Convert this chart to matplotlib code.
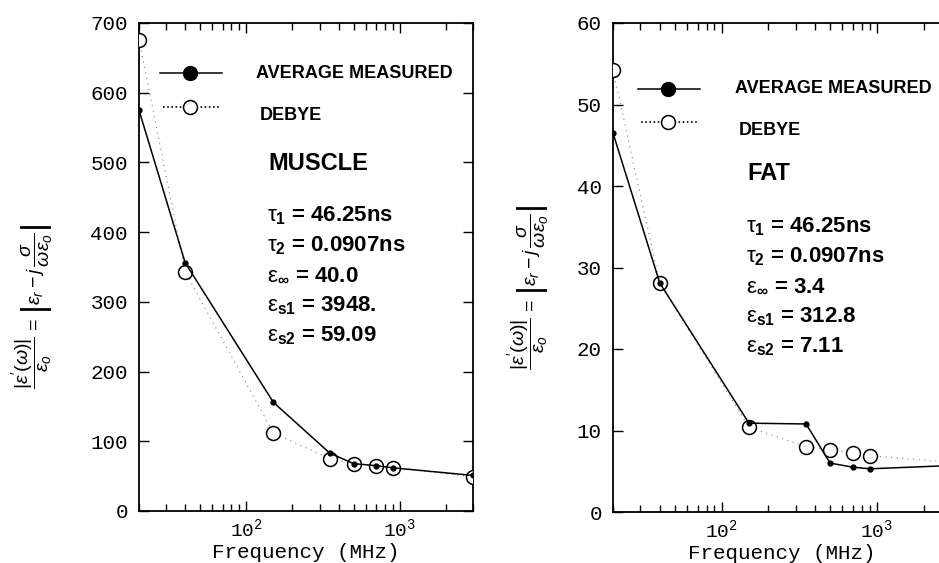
import matplotlib
matplotlib.use("Agg")
import matplotlib.pyplot as plt
from matplotlib.patches import Polygon
from matplotlib.ticker import MultipleLocator, LogLocator

# frequencies (MHz)
freq = [20, 40, 150, 350, 500, 700, 900, 3000]

muscle_measured = [575, 356, 156, 83, 68, 65, 62, 51]
muscle_debye = [676, 343, 112, 75, 68, 65, 62, 49]

fat_measured = [46.5, 28.1, 10.9, 10.8, 6.0, 5.5, 5.3, 5.7]
fat_debye = [54.2, 28.1, 10.4, 8.0, 7.6, 7.2, 6.9, 6.1]

muscle_params = [r"$\mathrm{\tau}_{\mathbf{1}}$ = 46.25ns",
                 r"$\mathrm{\tau}_{\mathbf{2}}$ = 0.0907ns",
                 r"$\mathrm{\varepsilon}_{\mathbf{\infty}}$ = 40.0",
                 r"$\mathrm{\varepsilon}_{\mathbf{s1}}$ = 3948.",
                 r"$\mathrm{\varepsilon}_{\mathbf{s2}}$ = 59.09"]
fat_params = [r"$\mathrm{\tau}_{\mathbf{1}}$ = 46.25ns",
              r"$\mathrm{\tau}_{\mathbf{2}}$ = 0.0907ns",
              r"$\mathrm{\varepsilon}_{\mathbf{\infty}}$ = 3.4",
              r"$\mathrm{\varepsilon}_{\mathbf{s1}}$ = 312.8",
              r"$\mathrm{\varepsilon}_{\mathbf{s2}}$ = 7.11"]

YLABEL = (r"$\dfrac{|\varepsilon^{\prime}(\omega)|}{\varepsilon_o}$ = "
          r"$\left|\varepsilon_r - j\,\dfrac{\sigma}{\omega\varepsilon_o}\right|$")

plt.rcParams["font.family"] = ["Liberation Mono", "DejaVu Sans"]
plt.rcParams["mathtext.fontset"] = "custom"
plt.rcParams["mathtext.rm"] = "Liberation Sans"
plt.rcParams["mathtext.it"] = "Liberation Sans:italic"
plt.rcParams["mathtext.bf"] = "Liberation Sans:bold"

W, H = 939, 563
fig = plt.figure(figsize=(W / 100, H / 100), dpi=100)


def px_axes(x0, y0, x1, y1):
    return fig.add_axes([x0 / W, 1 - y1 / H, (x1 - x0) / W, (y1 - y0) / H])


def panel(ax, meas, deb, ymax, ystep, name, params, leg_xy, txt_x, name_y, p_y0,
          label_xy):
    # real clip path so edge markers get cut like in the scan
    clip = Polygon([(0, 0), (1, 0), (1, 1), (0, 1)], closed=True,
                   transform=ax.transAxes, visible=False)
    ax.add_patch(clip)
    l1, = ax.plot(freq, deb, linestyle=(0, (1, 4)), color="0.5", lw=0.8, zorder=2)
    sc = ax.scatter(freq, deb, s=100, facecolors="white", edgecolors="black",
                    linewidths=1.1, zorder=3)
    l2, = ax.plot(freq, meas, color="black", lw=1.1, marker="o", ms=3.5, zorder=4)
    for art in (l1, sc, l2):
        art.set_clip_path(clip)
    ax.set_xscale("log")
    ax.set_xlim(20, 3000)
    ax.set_ylim(0, ymax)
    ax.yaxis.set_major_locator(MultipleLocator(ystep))
    ax.xaxis.set_major_locator(LogLocator(base=10))
    ax.xaxis.set_minor_locator(LogLocator(base=10, subs=range(2, 10)))
    ax.tick_params(which="both", direction="in", top=True, right=True, width=1.0)
    ax.tick_params(which="major", length=7)
    ax.tick_params(which="minor", length=5)
    ax.tick_params(axis="y", labelsize=15, pad=8)
    ax.tick_params(axis="x", labelsize=14, pad=5)
    for s in ax.spines.values():
        s.set_linewidth(1.3)
    ax.set_xlabel("Frequency (MHz)", fontsize=15, labelpad=2)
    ax.set_ylabel(YLABEL, fontsize=14, va="center", fontfamily="Liberation Sans")
    ax.yaxis.set_label_coords(*label_xy)

    # hand-drawn legend, positions in pixels
    tr = ax.transAxes.inverted()
    def a(x, y):
        return tr.transform(fig.transFigure.transform((x / W, 1 - y / H)))
    lx0, lx1, lxm, ly1, ly2 = leg_xy
    p0, p1 = a(lx0, ly1), a(lx1, ly1)
    ax.plot([p0[0], p1[0]], [p0[1], p1[1]], color="black", lw=1.1,
            transform=ax.transAxes, clip_on=False)
    pm = a(lxm, ly1)
    ax.plot([pm[0]], [pm[1]], marker="o", ms=10, color="black",
            transform=ax.transAxes, clip_on=False)
    q0, q1 = a(lx0 + 3, ly2), a(lx1 - 3, ly2)
    ax.plot([q0[0], q1[0]], [q0[1], q1[1]], color="black", lw=1.2,
            linestyle=(0, (1, 1.5)), transform=ax.transAxes, clip_on=False)
    qm = a(lxm, ly2)
    ax.plot([qm[0]], [qm[1]], marker="o", ms=10, mfc="white", mec="black",
            mew=1.1, transform=ax.transAxes, clip_on=False)

    bold = dict(fontfamily="Liberation Sans", fontweight="bold",
                transform=ax.transAxes, va="center", ha="left")
    t = a(txt_x, ly1)
    ax.text(t[0], t[1], "AVERAGE MEASURED", fontsize=13, **bold)
    t = a(txt_x + 4, ly2 + 9)
    ax.text(t[0], t[1], "DEBYE", fontsize=13, **bold)
    t = a(txt_x + 12, name_y)
    ax.text(t[0], t[1], name, fontsize=17, **bold)
    for i, p in enumerate(params):
        t = a(txt_x + 11, p_y0 + i * 30)
        ax.text(t[0], t[1], p, fontsize=16, **bold)


ax1 = px_axes(139, 23, 473, 511)
panel(ax1, muscle_measured, muscle_debye, 700, 100, "MUSCLE", muscle_params,
      (160, 222, 190, 73, 107), 256, 164, 216, (-0.32, 0.42))

ax2 = px_axes(613, 23, 951, 512)
panel(ax2, fat_measured, fat_debye, 60, 10, "FAT", fat_params,
      (638, 700, 668, 89, 122), 735, 174, 227, (-0.25, 0.46))

fig.savefig("out.png", dpi=100)
